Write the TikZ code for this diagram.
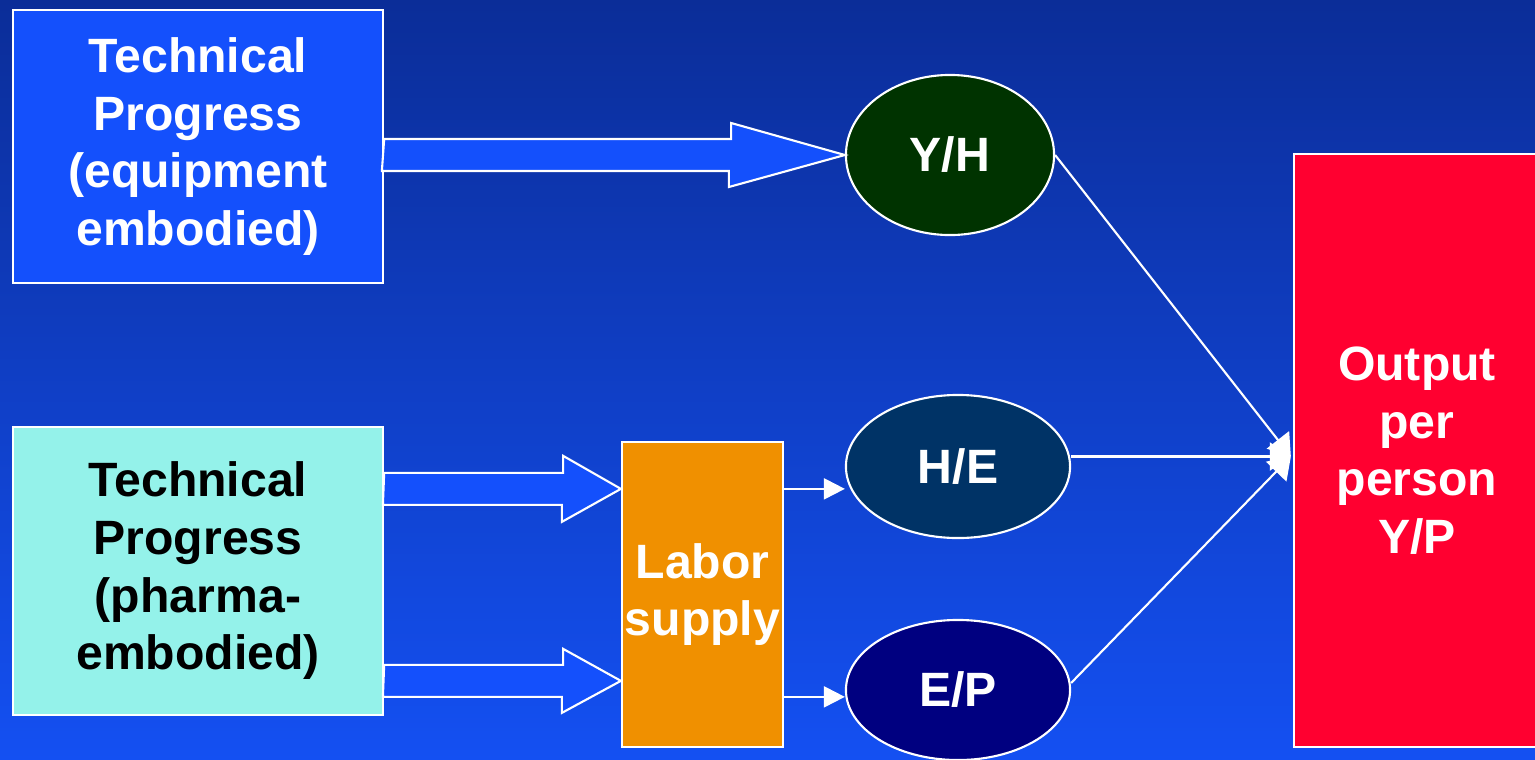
\documentclass[tikz,border=0pt]{standalone}
\usepackage{fontspec}
\setmainfont{Liberation Sans}
\usetikzlibrary{calc,arrows.meta,shapes.geometric}

\definecolor{bgtop}{RGB}{11,45,152}
\definecolor{bgbot}{RGB}{20,80,242}
\definecolor{equipblue}{RGB}{20,80,252}
\definecolor{pharmacyan}{RGB}{148,242,234}
\definecolor{laborange}{RGB}{240,144,0}
\definecolor{outred}{RGB}{255,0,48}
\definecolor{yhgreen}{RGB}{0,51,0}
\definecolor{heblue}{RGB}{0,51,102}
\definecolor{epnavy}{RGB}{0,0,128}

\tikzset{
	box/.style={rectangle,draw=white,line width=0.6pt,inner sep=0pt,align=center,
		text=white,font=\fontsize{13.7}{16.4}\selectfont\bfseries},
	oval/.style={ellipse,draw=white,line width=0.6pt,inner sep=0pt,
		text=white,font=\fontsize{13.7}{16.4}\selectfont\bfseries},
	fatarrow/.style={draw=white,line width=0.6pt,fill=equipblue,line join=miter},
	thinarrow/.style={draw=white,line width=0.6pt,-{Triangle[length=6pt,width=6pt]}},
	joinarrow/.style={draw=white,line width=0.6pt,-{Triangle[length=6pt,width=8pt]}}
}

\begin{document}
\begin{tikzpicture}[x=0.01cm,y=-0.01cm]

		\useasboundingbox (0,0) rectangle (1535,760);
		\shade [top color=bgtop,bottom color=bgbot] (0,0) rectangle (1535,760);

		% boxes
		\node (tpequip) at (198,146.5) [box,fill=equipblue,minimum width=37mm,minimum height=27.3mm]
			{Technical\\Progress\\(equipment\\embodied)};
		\node (tppharma) at (198,571) [box,fill=pharmacyan,text=black,minimum width=37mm,minimum height=28.8mm]
			{Technical\\Progress\\(pharma-\\embodied)};
		\node (labor) at (702.5,594.5) [box,fill=laborange,minimum width=16.1mm,minimum height=30.5mm]
			{Labor\\supply};
		\node (output) at (1417,450.5) [box,fill=outred,minimum width=24.6mm,minimum height=59.3mm]
			{Output\\per\\person\\Y/P};

		% ellipses
		\node (yh) at (950,155) [oval,fill=yhgreen,minimum width=20.8mm,minimum height=16mm] {Y/H};
		\node (he) at (958,466.5) [oval,fill=heblue,minimum width=22.4mm,minimum height=14.3mm] {H/E};
		\node (ep) at (958,690) [oval,fill=epnavy,minimum width=22.4mm,minimum height=14mm] {E/P};

		\coordinate (ls1) at ($(labor.north west)+(0,48)$);
		\coordinate (ls2) at ($(labor.north west)+(0,240)$);
		\coordinate (ls3) at ($(labor.north east)+(0,256)$);
		\coordinate (join) at ($(output.west)+(-2,6)$);

		% block arrows
		\draw [fatarrow] ($(tpequip.east|-yh.west)+(0,-16)$) -- ++(347,0) -- ++(0,-16) -- (yh.west)
			-- ++(-116,32) -- ++(0,-16) -- ++(-347,0) -- cycle;
		\draw [fatarrow] ($(tppharma.east|-ls1)+(0,-16)$) -- ++(179,0) -- ++(0,-17) -- (ls1)
			-- ++(-59,33) -- ++(0,-17) -- ++(-179,0) -- cycle;
		\draw [fatarrow] ($(tppharma.east|-ls2)+(0,-16)$) -- ++(179,0) -- ++(0,-16) -- (ls2)
			-- ++(-59,32) -- ++(0,-16) -- ++(-179,0) -- cycle;

		% labor supply to ellipses
		\draw [thinarrow] (labor.east|-ls1) -- (he.west|-ls1);
		\draw [thinarrow] (ls3) -- (ep.west|-ls3);

		% into output
		\draw [joinarrow] (yh.east) -- (join);
		\draw [joinarrow] (he.east|-join) -- (join);
		\draw [joinarrow] ($(ep.east)+(0,-7)$) -- (join);

	\end{tikzpicture}
\end{document}
